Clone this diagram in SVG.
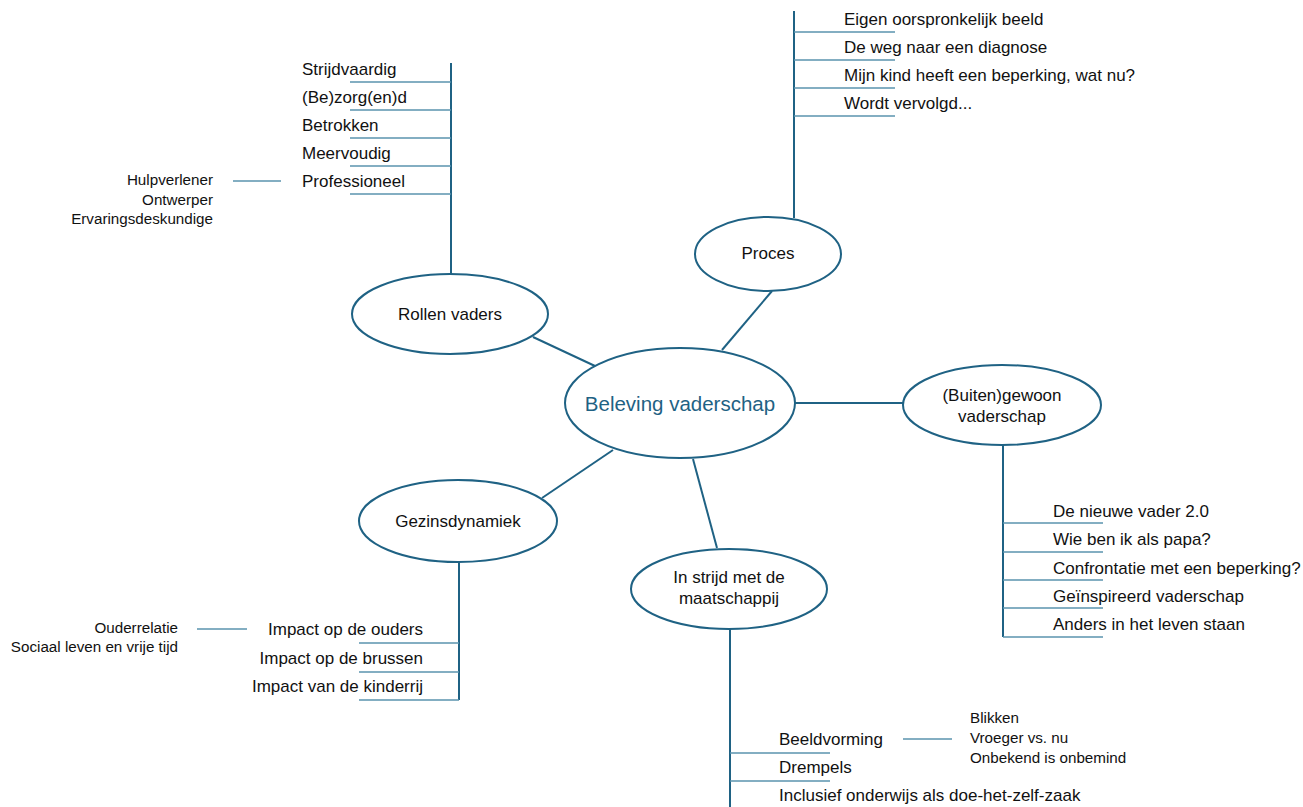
<svg xmlns="http://www.w3.org/2000/svg" width="1303" height="807" viewBox="0 0 1303 807">
<style>
.bg{fill:#ffffff}
.node{fill:#ffffff;stroke:#1f6284;stroke-width:2}
.conn{stroke:#1f6284;stroke-width:2;fill:none}
.trunk{stroke:#1f6284;stroke-width:2;fill:none}
.twig{stroke:#5a93ae;stroke-width:1.4;fill:none}
.t{font-family:"Liberation Sans",Arial,sans-serif;font-size:17px;fill:#111}
.s{font-family:"Liberation Sans",Arial,sans-serif;font-size:15.2px;fill:#111}
.c{font-family:"Liberation Sans",Arial,sans-serif;font-size:20.5px;fill:#1f6284}
.m{text-anchor:middle}
.e{text-anchor:end}
</style>
<rect class="bg" x="0" y="0" width="1303" height="807"/>
<g id="connectors">
<line class="conn" x1="533" y1="337" x2="595" y2="366"/>
<line class="conn" x1="772" y1="291" x2="722" y2="350"/>
<line class="conn" x1="795" y1="403" x2="903" y2="403"/>
<line class="conn" x1="613" y1="450" x2="542" y2="498"/>
<line class="conn" x1="693" y1="459" x2="717" y2="548"/>
</g>
<g id="branch-rollen">
<line class="trunk" x1="451" y1="63" x2="451" y2="274"/>
<line class="twig" x1="350" y1="82" x2="451" y2="82"/>
<line class="twig" x1="350" y1="110" x2="451" y2="110"/>
<line class="twig" x1="350" y1="138" x2="451" y2="138"/>
<line class="twig" x1="350" y1="166" x2="451" y2="166"/>
<line class="twig" x1="350" y1="194" x2="451" y2="194"/>
<line class="twig" x1="233" y1="181" x2="281" y2="181"/>
<text class="t" x="302" y="75">Strijdvaardig</text>
<text class="t" x="302" y="103">(Be)zorg(en)d</text>
<text class="t" x="302" y="131">Betrokken</text>
<text class="t" x="302" y="159">Meervoudig</text>
<text class="t" x="302" y="187">Professioneel</text>
<text class="s e" x="213" y="185">Hulpverlener</text>
<text class="s e" x="213" y="205">Ontwerper</text>
<text class="s e" x="213" y="224">Ervaringsdeskundige</text>
</g>
<g id="branch-proces">
<line class="trunk" x1="794" y1="11" x2="794" y2="218"/>
<line class="twig" x1="794" y1="32" x2="895" y2="32"/>
<line class="twig" x1="794" y1="60" x2="895" y2="60"/>
<line class="twig" x1="794" y1="88" x2="895" y2="88"/>
<line class="twig" x1="794" y1="116" x2="895" y2="116"/>
<text class="t" x="844" y="25">Eigen oorspronkelijk beeld</text>
<text class="t" x="844" y="53">De weg naar een diagnose</text>
<text class="t" x="844" y="81">Mijn kind heeft een beperking, wat nu?</text>
<text class="t" x="844" y="109">Wordt vervolgd...</text>
</g>
<g id="branch-buiten">
<line class="trunk" x1="1003" y1="445" x2="1003" y2="637"/>
<line class="twig" x1="1003" y1="523" x2="1103" y2="523"/>
<line class="twig" x1="1003" y1="552" x2="1103" y2="552"/>
<line class="twig" x1="1003" y1="580" x2="1103" y2="580"/>
<line class="twig" x1="1003" y1="608" x2="1103" y2="608"/>
<line class="twig" x1="1003" y1="637" x2="1103" y2="637"/>
<text class="t" x="1053" y="517">De nieuwe vader 2.0</text>
<text class="t" x="1053" y="545">Wie ben ik als papa?</text>
<text class="t" x="1053" y="574">Confrontatie met een beperking?</text>
<text class="t" x="1053" y="602">Geïnspireerd vaderschap</text>
<text class="t" x="1053" y="630">Anders in het leven staan</text>
</g>
<g id="branch-gezins">
<line class="trunk" x1="459" y1="562" x2="459" y2="700"/>
<line class="twig" x1="359" y1="643" x2="459" y2="643"/>
<line class="twig" x1="359" y1="672" x2="459" y2="672"/>
<line class="twig" x1="359" y1="700" x2="459" y2="700"/>
<line class="twig" x1="197" y1="629" x2="247" y2="629"/>
<text class="t e" x="423" y="635">Impact op de ouders</text>
<text class="t e" x="423" y="664">Impact op de brussen</text>
<text class="t e" x="423" y="692">Impact van de kinderrij</text>
<text class="s e" x="178" y="633">Ouderrelatie</text>
<text class="s e" x="178" y="652">Sociaal leven en vrije tijd</text>
</g>
<g id="branch-strijd">
<line class="trunk" x1="730" y1="629" x2="730" y2="807"/>
<line class="twig" x1="730" y1="753" x2="830" y2="753"/>
<line class="twig" x1="730" y1="781" x2="830" y2="781"/>
<line class="twig" x1="903" y1="739" x2="952" y2="739"/>
<text class="t" x="779" y="745">Beeldvorming</text>
<text class="t" x="779" y="773">Drempels</text>
<text class="t" x="779" y="801">Inclusief onderwijs als doe-het-zelf-zaak</text>
<text class="s" x="970" y="723">Blikken</text>
<text class="s" x="970" y="743">Vroeger vs. nu</text>
<text class="s" x="970" y="763">Onbekend is onbemind</text>
</g>
<g id="node-center">
<ellipse class="node" cx="680" cy="403" rx="115" ry="55"/>
<text class="c m" x="680" y="411">Beleving vaderschap</text>
</g>
<g id="node-rollen">
<ellipse class="node" cx="450" cy="314" rx="98" ry="40"/>
<text class="t m" x="450" y="320">Rollen vaders</text>
</g>
<g id="node-proces">
<ellipse class="node" cx="768" cy="254" rx="73" ry="37"/>
<text class="t m" x="768" y="259">Proces</text>
</g>
<g id="node-buiten">
<ellipse class="node" cx="1002" cy="405" rx="99" ry="40"/>
<text class="t m" x="1002" y="401">(Buiten)gewoon</text>
<text class="t m" x="1002" y="422">vaderschap</text>
</g>
<g id="node-gezins">
<ellipse class="node" cx="458" cy="521" rx="99" ry="41"/>
<text class="t m" x="458" y="527">Gezinsdynamiek</text>
</g>
<g id="node-strijd">
<ellipse class="node" cx="729" cy="589" rx="98" ry="40"/>
<text class="t m" x="729" y="583">In strijd met de</text>
<text class="t m" x="729" y="604">maatschappij</text>
</g>
</svg>
